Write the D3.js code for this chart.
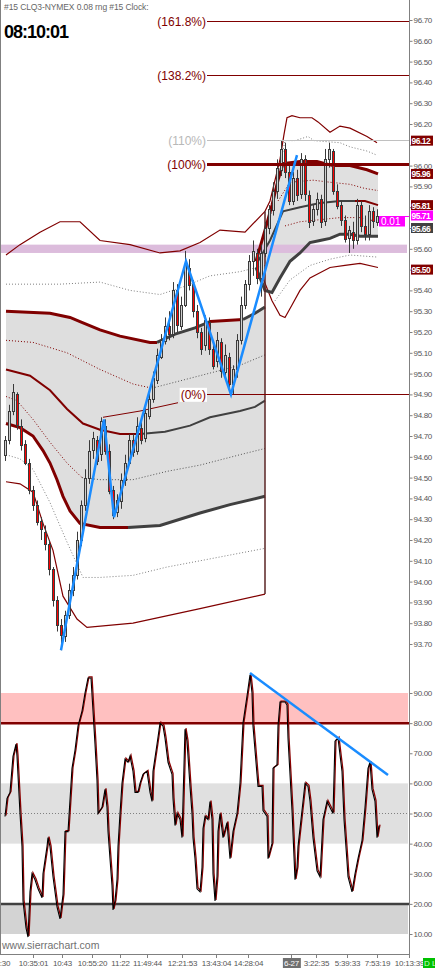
<!DOCTYPE html>
<html><head><meta charset="utf-8">
<script src="https://cdn.jsdelivr.net/npm/d3@7"></script>
<style>
html,body{margin:0;padding:0;background:#fff;}
svg{display:block;font-family:"Liberation Sans",Arial,sans-serif;}
</style></head><body>
<svg id="c" width="435" height="969"></svg>
<script>
// ---------- DATA ----------
const headerText = "#15 CLQ3-NYMEX 0.08 rng #15 Clock:";
const clockText = "08:10:01";

const open  = [94.61,94.68,94.82,94.90,94.75,94.66,94.57,94.44,94.37,94.29,94.24,94.18,94.06,93.91,93.79,93.74,93.84,93.96,94.03,94.20,94.37,94.50,94.63,94.68,94.61,94.75,94.63,94.44,94.33,94.39,94.49,94.57,94.68,94.63,94.74,94.69,94.80,94.88,94.97,95.08,95.16,95.23,95.19,95.40,95.23,95.33,95.51,95.43,95.30,95.20,95.14,95.25,95.12,95.06,95.15,95.01,95.08,94.95,95.02,95.16,95.33,95.43,95.54,95.58,95.46,95.58,95.70,95.79,95.88,95.98,96.08,95.97,95.83,95.94,95.86,96.03,95.86,95.73,95.79,95.84,95.73,96.03,96.07,95.88,95.81,95.74,95.65,95.68,95.64,95.81,95.71,95.67,95.78,95.73];
const high  = [94.70,94.85,94.95,94.91,94.78,94.68,94.59,94.46,94.39,94.31,94.27,94.20,94.07,93.93,93.82,93.86,93.99,94.07,94.24,94.39,94.54,94.68,94.72,94.70,94.79,94.78,94.66,94.46,94.42,94.52,94.61,94.71,94.71,94.79,94.78,94.84,94.91,95.01,95.12,95.19,95.27,95.30,95.44,95.43,95.37,95.59,95.55,95.45,95.33,95.22,95.28,95.27,95.16,95.20,95.17,95.14,95.10,95.04,95.19,95.37,95.45,95.57,95.64,95.60,95.62,95.73,95.81,95.92,96.03,96.12,96.11,96.00,95.97,95.98,96.06,96.05,95.88,95.81,95.87,95.86,96.08,96.11,96.08,95.91,95.83,95.76,95.71,95.73,95.84,95.83,95.76,95.81,95.80,95.79];
const low   = [94.58,94.66,94.80,94.73,94.63,94.56,94.42,94.34,94.27,94.20,94.15,94.03,93.88,93.76,93.67,93.71,93.82,93.93,94.01,94.17,94.34,94.47,94.59,94.56,94.58,94.61,94.42,94.30,94.31,94.35,94.46,94.56,94.60,94.61,94.66,94.67,94.78,94.86,94.95,95.07,95.14,95.16,95.17,95.20,95.21,95.32,95.40,95.27,95.17,95.09,95.11,95.09,95.02,95.03,94.98,94.97,94.92,94.90,94.98,95.14,95.31,95.40,95.47,95.43,95.37,95.56,95.67,95.76,95.84,95.95,95.94,95.81,95.81,95.83,95.84,95.83,95.70,95.71,95.76,95.70,95.71,95.99,95.86,95.79,95.71,95.63,95.58,95.60,95.62,95.68,95.64,95.64,95.70,95.71];
const close = [94.68,94.82,94.91,94.75,94.66,94.57,94.44,94.37,94.29,94.25,94.18,94.06,93.91,93.79,93.74,93.84,93.96,94.03,94.20,94.37,94.50,94.63,94.69,94.58,94.77,94.63,94.44,94.32,94.39,94.49,94.57,94.68,94.62,94.75,94.68,94.81,94.88,94.98,95.09,95.16,95.23,95.19,95.40,95.23,95.33,95.52,95.43,95.30,95.20,95.12,95.26,95.12,95.04,95.16,95.01,95.09,94.95,95.02,95.16,95.33,95.43,95.54,95.59,95.46,95.58,95.70,95.79,95.88,95.99,96.08,95.97,95.83,95.94,95.86,96.03,95.86,95.73,95.79,95.84,95.73,96.03,96.08,95.88,95.81,95.74,95.65,95.69,95.64,95.81,95.71,95.67,95.78,95.73,95.76];

// band lines: [barIndex, price]
const aOuterUp = [[0,95.57],[3.5,95.62],[8.5,95.68],[13.5,95.73],[18.5,95.73],[23.5,95.64],[31,95.62],[38.5,95.58],[43.5,95.59],[48.5,95.63],[53.5,95.69],[59.75,95.68],[64.75,95.78]];
const aDotUp2  = [[0,95.43],[13.5,95.43],[23.5,95.44],[31,95.40],[38.5,95.38],[44.75,95.42],[51,95.47],[58.5,95.49],[64.75,95.52]];
const aUp1     = [[0,95.30],[11,95.29],[16,95.27],[18.5,95.25],[23.5,95.21],[28.5,95.18],[36,95.15],[37.75,95.15]];
const bUp1a    = [[37.75,95.15],[42.25,95.19],[47.25,95.22],[51,95.25]];
const bUp1b    = [[51,95.25],[59.25,95.26]];
const bUp1c    = [[59.25,95.26],[62.25,95.29],[64.75,95.32]];
const aDotUp1  = [[0,95.16],[6.75,95.15],[15.25,95.10],[23.5,95.02],[31.75,94.95],[36.5,94.93]];
const bDotUp1  = [[36.5,94.93],[48.5,94.99],[58.5,95.04],[64.75,95.09]];
const aMid     = [[0,95.02],[6,94.99],[11,94.92],[15.25,94.83],[19.25,94.76],[23.5,94.73],[28.5,94.71],[33.5,94.71]];
const bMid     = [[33.5,94.71],[39.75,94.72],[46,94.75],[51,94.79],[58.5,94.82],[62.25,94.84],[64.75,94.87]];
const cMidThin = [[24.25,94.79],[33.5,94.82],[43,94.86]];
const aDotLo1  = [[0,94.89],[2.75,94.87],[6.75,94.78],[11,94.67],[15.25,94.57],[19,94.50]];
const bDotLo1  = [[19,94.50],[23.5,94.49],[31.75,94.49],[40.25,94.53],[48.5,94.56],[58.5,94.61],[64.75,94.64]];
const aLo1     = [[0,94.76],[3.5,94.74],[6.75,94.70],[9.25,94.63],[11,94.57],[12.75,94.49],[14.25,94.41],[16,94.34],[18.5,94.28],[23.5,94.26],[30.5,94.26]];
const bLo1     = [[30.5,94.26],[38.5,94.27],[48.5,94.33],[56,94.37],[64.75,94.41]];
const aDotLo2  = [[0,94.61],[3.5,94.59],[6.75,94.54],[11,94.38],[15.25,94.19],[19.25,94.02],[23.5,94.02],[31.75,94.03],[40.25,94.07],[48.5,94.10],[64.75,94.16]];
const aOuterLo = [[0,94.48],[3.5,94.47],[6.75,94.43],[9.25,94.28],[11.75,94.15],[14.25,93.93],[17.75,93.82],[20.25,93.78],[31.75,93.80],[48.5,93.87],[64.75,93.94]];

const cOuterUp = [[64.75,95.78],[66,95.83],[68.5,96.03],[69.5,96.15],[70.25,96.23],[71.5,96.24],[73.5,96.23],[75,96.23],[76.5,96.23],[78,96.21],[81,96.16],[83.5,96.19],[86,96.18],[90.25,96.14],[92.75,96.11]];
const cDotUp2  = [[66,95.74],[68,95.95],[69.75,96.12],[72.25,96.12],[75.5,96.14],[77,96.12],[83.5,96.11],[86,96.09],[90.25,96.07],[92.75,96.05]];
const cUp1     = [[62.5,95.54],[64.75,95.69],[66.5,95.81],[68,95.93],[69.25,96.01],[73.5,96.02],[77.75,96.02],[81.75,96.00],[86,96.00],[90.25,95.98],[93,95.96]];
const cDotUp1  = [[68,95.83],[71,95.92],[76.75,95.93],[81,95.92],[86,95.91],[89.75,95.89],[93,95.88]];
const cMid     = [[63,95.54],[66,95.64],[69.25,95.78],[73.5,95.80],[78.5,95.82],[83.5,95.83],[87.25,95.83]];
const cMidEnd  = [[87.25,95.83],[89.75,95.83],[93,95.81]];
const cDotLo1  = [[69.75,95.71],[73.5,95.73],[78.5,95.74],[83.5,95.75],[88.5,95.75],[93,95.73]];
const cLo1     = [[62.5,95.51],[64.75,95.40],[66.5,95.39],[68.5,95.46],[71,95.54],[73.5,95.58],[76,95.63],[78.5,95.64],[81,95.65],[83.5,95.67],[86,95.67],[88.5,95.66],[91,95.66],[93,95.66]];
const cDotLo2  = [[67.25,95.35],[71,95.45],[76,95.52],[81,95.55],[86,95.57],[93,95.56]];
const cOuterLo = [[64,95.47],[66.5,95.35],[68.5,95.28],[69.75,95.27],[71.5,95.33],[73.5,95.40],[76,95.46],[81,95.51],[84.75,95.52],[88.5,95.53],[93,95.51]];

const zigzag = [[13.75,93.67],[24.5,94.78],[27,94.31],[45,95.54],[56.25,94.90],[72.75,96.05]];
const pinkZone = [95.58, 95.62];

const fibLow = 94.90, fibHigh = 96.01;
const fibRatios = [1.618, 1.382, 1.1, 1.0, 0];
const fibLabels = ["(161.8%)","(138.2%)","(110%)","(100%)","(0%)"];
const fibStartT = 50.25;

const priceTicks = ["96.70","96.60","96.50","96.40","96.30","96.20","96.10","96.00","95.90","95.80","95.70","95.60","95.50","95.40","95.30","95.20","95.10","95.00","94.90","94.80","94.70","94.60","94.50","94.40","94.30","94.20","94.10","94.00","93.90","93.80","93.70"];
const boxTexts = ["96.12","95.96","95.81","95.71","95.66","95.50"];
const boxAt    = [96.12, 95.96, 95.81, 95.76, 95.70, 95.50];
const boxKind  = ["band","band","band","last","vwap","band"];
const changeText = "0.01";

const oscT = [-0.25,0.25,1,1.75,2.5,2.75,3.5,4,4.25,5,5.5,6,6.5,7.25,8,9,9.25,10.25,10.5,11,11.75,12.75,13.5,14.25,14.75,15.5,16.5,17.25,18,19,19.75,20.5,21.25,21.75,22.25,22.75,23,24,24.75,25.25,25.5,26,26.5,26.75,27.25,27.75,28,28.5,29,29.75,30.5,31,31.75,32.25,33,33.5,34.25,35.25,36,36.5,36.75,37.75,38.5,39.25,39.75,40.5,41.5,41.75,42.25,42.75,43.5,44,44.75,45.25,45.5,46,46.5,46.75,47.25,47.75,48.5,49,49.25,49.75,50.5,51,51.5,51.75,52.25,52.75,53,53.5,54.25,55.25,56,56.75,57.75,58.5,59.25,60.25,61,61.5,61.75,62.75,63,64,64.25,65.25,65.5,66.5,66.75,67.75,68,68.5,69.75,70.25,70.5,71.5,72.25,72.75,73,74,74.75,75.5,76,76.75,77.75,78.5,79.25,80.25,81,81.75,82.25,83,84,84.5,85.25,85.5,86.5,87.25,88,89,89.75,90.5,91,91.5,92.25,92.75,93.25];
const oscV = [49,55,57,69,73,69,50,39,21,12,9,24,30,28,25,22,30,39,42,39,29,19,15,23,44,44,65,71,79,84,90,95,95,84,73,61,50,52,58,52,44,35,26,18,21,28,39,50,60,68,67,69,64,57,57,60,63,64,57,54,64,73,80,79,75,67,63,55,46,50,48,42,78,74,69,59,50,42,35,25,24,32,45,49,48,54,48,30,21,29,44,50,42,47,35,44,50,60,80,89,96,90,79,63,59,59,51,49,35,40,65,66,79,87,87,86,75,51,28,32,39,51,60,59,54,42,31,29,48,54,52,50,74,75,64,48,34,29,24,30,35,41,52,65,67,58,54,42,46];
const oscTrend = [[61,96.6],[95.5,62.8]];
const oscTicks = [90,80,70,60,50,40,30,20,10];
const oscHotZone = [80,90], oscMidZone = [40,60], oscColdZone = [10,20];
const oscHotLine = 80, oscMidLine = 50, oscColdLine = 20;

const timeT = [-2.75,6.75,14,21.375,28.375,35.25,44,52.5,60.5,71.25,77.5,85.25,92.75,100.75];
const timeLabels = ["10:20:30","10:35:01","10:43","10:55:20","11:22","11:49:44","12:21:53","13:43:04","14:28:04","6-27","3:22:35","5:39:33","7:53:19","10:13:39"];
const dateLabel = "6-27";
const watermark = "www.sierrachart.com";

// ---------- DRAW ----------
const DR='#800000', DG='#404040', GR='#808080';
const FONT='"Liberation Sans",Arial,sans-serif';
const svg = d3.select('#c');
const AX = 409.5;
const x = d3.scaleLinear().domain([0,93]).range([6,378]);
const y = d3.scaleLinear().domain([93.70,96.70]).range([644,20]);
const yo = d3.scaleLinear().domain([10,90]).range([934,693]);
const lp = d3.line().x(d=>x(d[0])).y(d=>y(d[1]));

svg.append('defs').append('clipPath').attr('id','clip').append('rect').attr('x',1).attr('y',0).attr('width',408).attr('height',954);
const gP = svg.append('g').attr('clip-path','url(#clip)');

// shading
const s1 = aUp1.concat(bUp1a,bUp1b,bUp1c, bLo1.slice().reverse(), aLo1.slice().reverse());
gP.append('path').attr('d',lp(s1)+'Z').attr('fill','#dedede');
const s2 = cUp1.concat(cLo1.slice().reverse());
gP.append('path').attr('d',lp(s2)+'Z').attr('fill','#e0e0e0');

// pink zone
gP.append('rect').attr('x',1).attr('width',406).attr('y',y(pinkZone[1])).attr('height',y(pinkZone[0])-y(pinkZone[1])).attr('fill','#dcbcdc');

const styles = {
  outer:{c:DR,w:1.2}, dotG:{c:GR,w:1,d:'1,2'}, dotR:{c:DR,w:1,d:'1,2'}, dotDG:{c:'#555',w:1,d:'1,2'},
  band:{c:DR,w:3}, bandG:{c:DG,w:3}, mid:{c:DR,w:2}, midG:{c:DG,w:2}, thin:{c:DR,w:1}
};
const lines = [
  [aOuterUp,'outer'],[aDotUp2,'dotG'],[aDotUp1,'dotR'],[bDotUp1,'dotDG'],[aDotLo1,'dotR'],[bDotLo1,'dotDG'],
  [aDotLo2,'dotG'],[aOuterLo,'outer'],[cMidThin,'thin'],
  [aUp1,'band'],[bUp1a,'bandG'],[bUp1b,'band'],[bUp1c,'bandG'],[aMid,'mid'],[bMid,'midG'],[aLo1,'band'],[bLo1,'bandG'],
  [cOuterUp,'outer'],[cDotUp2,'dotG'],[cDotUp1,'dotR'],[cDotLo1,'dotR'],[cDotLo2,'dotG'],[cOuterLo,'outer'],
  [cMid,'midG'],[cMidEnd,'mid'],[cUp1,'band'],[cLo1,'bandG']
];
lines.forEach(([d,s])=>{
  const st=styles[s];
  gP.append('path').attr('d',lp(d)).attr('fill','none').attr('stroke',st.c).attr('stroke-width',st.w)
    .attr('stroke-dasharray',st.d||null);
});
// closing vertical of middle anchor
const lastA = aOuterUp[aOuterUp.length-1], lastB = aOuterLo[aOuterLo.length-1];
gP.append('line').attr('x1',x(lastA[0])).attr('x2',x(lastA[0])).attr('y1',y(lastA[1])).attr('y2',y(lastB[1]))
  .attr('stroke','#5a2424').attr('stroke-width',1.5);

// candles
const bars = open.map((o,i)=>({i,o,h:high[i],l:low[i],c:close[i]}));
const gC = gP.append('g');
gC.selectAll('line').data(bars).join('line')
  .attr('x1',d=>x(d.i)-0.5).attr('x2',d=>x(d.i)-0.5).attr('y1',d=>y(d.h)).attr('y2',d=>y(d.l))
  .attr('stroke','#3a3a3a').attr('stroke-width',1);
gC.selectAll('rect').data(bars).join('rect')
  .attr('x',d=>x(d.i)-1.5).attr('width',2)
  .attr('y',d=>Math.round(y(Math.max(d.o,d.c)))+0.5)
  .attr('height',d=>Math.max(1,Math.round(Math.abs(y(d.o)-y(d.c)))))
  .attr('fill',d=>d.c>=d.o?'#cfcfcf':'#ff0000').attr('stroke','#3a3a3a').attr('stroke-width',1);

// fib levels
const fibs = fibRatios.map((r,i)=>({v:fibLow+r*(fibHigh-fibLow), label:fibLabels[i], r}));
const fibStyle = r => r===1 ? {c:DR,w:3,t:DR} : (r===1.1 ? {c:'#c0c0c0',w:1,t:'#b8b8b8'} : {c:DR,w:1,t:DR});
const gF = gP.append('g');
fibs.forEach(f=>{
  const st=fibStyle(f.r), yy=Math.round(y(f.v))+0.5, x0=x(fibStartT);
  gF.append('line').attr('x1',x0).attr('x2',AX).attr('y1',yy).attr('y2',yy).attr('stroke',st.c).attr('stroke-width',st.w);
  const bg = gF.append('rect').attr('fill','#fff');
  const t=gF.append('text').attr('x',x0-1).attr('y',yy).attr('dy','0.36em').attr('text-anchor','end')
    .attr('font-size',12).attr('fill',st.t).text(f.label);
  const bb=t.node().getBBox();
  bg.attr('x',bb.x-1).attr('y',bb.y).attr('width',bb.width+2).attr('height',bb.height);
});

// zigzag
gP.append('path').attr('d',lp(zigzag)).attr('fill','none').attr('stroke','#1a8cff').attr('stroke-width',2.5);

// last price marker
const lastClose = close[close.length-1];
const yl = Math.round(y(lastClose))+0.5;
svg.append('line').attr('x1',379).attr('x2',AX).attr('y1',yl).attr('y2',yl).attr('stroke','#ff00ff');
svg.append('rect').attr('x',379).attr('y',yl).attr('width',26).attr('height',10).attr('fill','#ff00ff');
svg.append('text').attr('x',381).attr('y',yl+8.5).attr('font-size',10).attr('fill','#fff').text(changeText);

// ---------- OSC PANEL ----------
const gO = svg.append('g').attr('clip-path','url(#clip)');
const band = (z,col)=>gO.append('rect').attr('x',1).attr('width',407).attr('y',yo(z[1])).attr('height',yo(z[0])-yo(z[1])).attr('fill',col);
band(oscHotZone,'#ffc0c0'); band(oscMidZone,'#e0e0e0'); band(oscColdZone,'#d3d3d3');
const hl=(v,col,w,d)=>gO.append('line').attr('x1',1).attr('x2',AX).attr('y1',yo(v)).attr('y2',yo(v)).attr('stroke',col).attr('stroke-width',w).attr('stroke-dasharray',d||null);
hl(oscHotLine,DR,2.5); hl(oscMidLine,GR,1,'1,2'); hl(oscColdLine,DG,2.5);
const osc = oscT.map((t,i)=>[t,oscV[i]]);
const lo = d3.line().x(d=>x(d[0])).y(d=>yo(d[1]));
gO.append('path').attr('d',lo(osc)).attr('fill','none').attr('stroke','#8b0000').attr('stroke-width',1.3).attr('transform','translate(1,-1)');
gO.append('path').attr('d',lo(osc)).attr('fill','none').attr('stroke','#000').attr('stroke-width',1.1);
gO.append('path').attr('d',lo(oscTrend)).attr('fill','none').attr('stroke','#1a8cff').attr('stroke-width',2.5);
svg.append('text').attr('x',2).attr('y',949).attr('font-size',10.5).attr('fill','#707070').text(watermark);

// ---------- FRAME & AXES ----------
svg.append('line').attr('x1',0.5).attr('x2',0.5).attr('y1',0).attr('y2',954).attr('stroke','#808080');
svg.append('line').attr('x1',AX).attr('x2',AX).attr('y1',0).attr('y2',958).attr('stroke','#808080');
svg.append('line').attr('x1',0).attr('x2',AX).attr('y1',954.5).attr('y2',954.5).attr('stroke','#808080');

const boxY = boxAt.map(v=>y(v));
const styleAxis = g=>{ g.select('.domain').remove(); g.selectAll('line').attr('stroke','#808080');
  g.attr('font-family',FONT).attr('font-size',8);
  g.selectAll('text').attr('fill','#555').style('letter-spacing','-0.3px'); };
const gYA = svg.append('g').attr('transform',`translate(${AX},0)`)
  .call(d3.axisRight(y).tickValues(priceTicks.map(Number)).tickSize(3).tickSizeOuter(0).tickPadding(1).tickFormat(d3.format('.2f'))).call(styleAxis);
// hide tick labels covered by value boxes
gYA.selectAll('.tick').each(function(d){
  if (boxY.some(b=>Math.abs(b-y(d))<8)) d3.select(this).select('text').remove();
});
svg.append('g').attr('transform',`translate(${AX},0)`)
  .call(d3.axisRight(yo).tickValues(oscTicks).tickSize(3).tickSizeOuter(0).tickPadding(1).tickFormat(d3.format('.2f'))).call(styleAxis);

// colored value boxes
const boxColor = {band:DR,last:'#ff00ff',vwap:DG};
const gB = svg.append('g');
boxTexts.forEach((t,i)=>{
  const yy=boxY[i];
  gB.append('rect').attr('x',411).attr('y',yy-5).attr('width',22).attr('height',10).attr('fill',boxColor[boxKind[i]]);
  gB.append('text').attr('x',411.5).attr('y',yy+3.5).attr('font-size',8.5).attr('font-weight','bold').attr('fill','#fff').style('letter-spacing','-0.5px').text(t);
});

// time axis
const gT = svg.append('g');
timeT.forEach((t,i)=>{
  const xx=Math.round(x(t))+0.5;
  gT.append('line').attr('x1',xx).attr('x2',xx).attr('y1',954).attr('y2',958).attr('stroke','#808080');
  const isDate = timeLabels[i]===dateLabel;
  const bg = isDate ? gT.append('rect').attr('fill','#707070') : null;
  const tx=gT.append('text').attr('x',xx).attr('y',966).attr('text-anchor','middle').attr('font-size',8)
    .attr('fill',isDate?'#fff':'#555').style('letter-spacing','-0.2px').text(timeLabels[i]);
  if(bg){ const bb=tx.node().getBBox(); bg.attr('x',bb.x-1).attr('y',958).attr('width',bb.width+2).attr('height',10); }
});
gT.append('rect').attr('x',423).attr('y',958).attr('width',12).attr('height',10).attr('fill','#00c000');
gT.append('text').attr('x',424).attr('y',966).attr('font-size',8).attr('fill','#c8ffc8').text('D L');

// header
svg.append('text').attr('x',4).attr('y',10).attr('font-size',8.5).attr('fill','#666').style('letter-spacing','-0.1px').text(headerText);
svg.append('text').attr('x',4).attr('y',38).attr('font-size',18).attr('font-weight','bold').attr('fill','#000').style('letter-spacing','-1px').text(clockText);
</script>
</body></html>
